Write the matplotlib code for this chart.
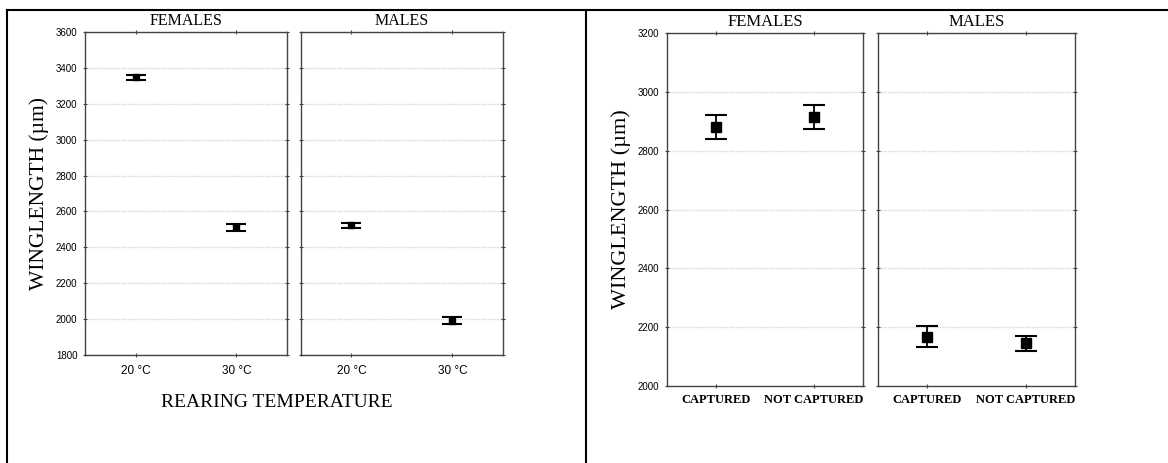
import matplotlib.pyplot as plt
from matplotlib.lines import Line2D

# left figure: rearing temperature
temp_labels = ["20 °C", "30 °C"]
temp_fem_mean = [3348, 2511]
temp_fem_err = [15, 18]
temp_male_mean = [2522, 1992]
temp_male_err = [13, 18]

# right figure: capture status
capt_labels = ["CAPTURED", "NOT CAPTURED"]
capt_fem_mean = [2880, 2914]
capt_fem_err = [41, 41]
capt_male_mean = [2167, 2145]
capt_male_err = [36, 25]

panel_titles = ["FEMALES", "MALES"]
SERIF = "Liberation Serif"
SANS = "Liberation Sans"


def style_axes(ax, ylim, yticks, show_ylabels):
    ax.set_xlim(-0.5, 1.5)
    ax.set_ylim(*ylim)
    ax.set_yticks(yticks)
    ax.set_xticks([0, 1])
    for s in ax.spines.values():
        s.set_color("#444444")
        s.set_linewidth(1.0)
    ax.grid(axis="y", color="#d8d8d8", linestyle=(0, (1, 0.7)), linewidth=1.0)
    ax.set_axisbelow(True)
    ax.tick_params(axis="both", direction="inout", length=3, width=0.8,
                   color="#444444", top=True, right=True)
    ax.tick_params(axis="y", labelsize=7, pad=4)
    if not show_ylabels:
        ax.tick_params(axis="y", labelleft=False)
    for lab in ax.get_yticklabels():
        lab.set_family(SANS)


def draw(ax, means, errs, ms, cap):
    ax.errorbar(range(len(means)), means, yerr=errs, fmt="s", color="black",
                ms=ms, capsize=cap, capthick=1.5, elinewidth=1.3)


fig = plt.figure(figsize=(11.68, 4.63), dpi=100)

# ---- left figure
left_pos = [(0.0728, 0.2333, 0.1729, 0.6976), (0.2577, 0.2333, 0.1729, 0.6976)]
left_data = [(temp_fem_mean, temp_fem_err), (temp_male_mean, temp_male_err)]
for i, (pos, (m, e)) in enumerate(zip(left_pos, left_data)):
    ax = fig.add_axes(pos)
    draw(ax, m, e, 4.5, 7)
    style_axes(ax, (1800, 3600), range(1800, 3601, 200), i == 0)
    ax.set_xticklabels(temp_labels, family=SANS, fontsize=8.5)
    ax.tick_params(axis="x", pad=6)
    ax.set_title(panel_titles[i], family=SERIF, fontsize=11.5, pad=5)
    if i == 0:
        ax.set_ylabel("WINGLENGTH (µm)", family=SERIF, fontsize=15.5, labelpad=5)
fig.text(0.237, 0.131, "REARING TEMPERATURE", family=SERIF, fontsize=14,
         ha="center", va="center")

# ---- right figure
right_pos = [(0.5711, 0.1663, 0.1678, 0.7624), (0.7517, 0.1663, 0.1687, 0.7624)]
right_data = [(capt_fem_mean, capt_fem_err), (capt_male_mean, capt_male_err)]
for i, (pos, (m, e)) in enumerate(zip(right_pos, right_data)):
    ax = fig.add_axes(pos)
    draw(ax, m, e, 7, 8)
    style_axes(ax, (2000, 3200), range(2000, 3201, 200), i == 0)
    ax.set_xticklabels(capt_labels, family=SERIF, fontsize=9, fontweight="bold")
    ax.tick_params(axis="x", pad=4)
    ax.set_title(panel_titles[i], family=SERIF, fontsize=12, pad=5)
    if i == 0:
        ax.set_ylabel("WINGLENGTH (µm)", family=SERIF, fontsize=16, labelpad=5)

# table-like frame
fig.add_artist(Line2D([0.006, 1.0], [0.978, 0.978], color="black", lw=1.5))
fig.add_artist(Line2D([0.006, 0.006], [0.0, 0.978], color="black", lw=1.5))
fig.add_artist(Line2D([0.5017, 0.5017], [0.0, 0.978], color="black", lw=1.5))

fig.savefig("out.png", dpi=100)
